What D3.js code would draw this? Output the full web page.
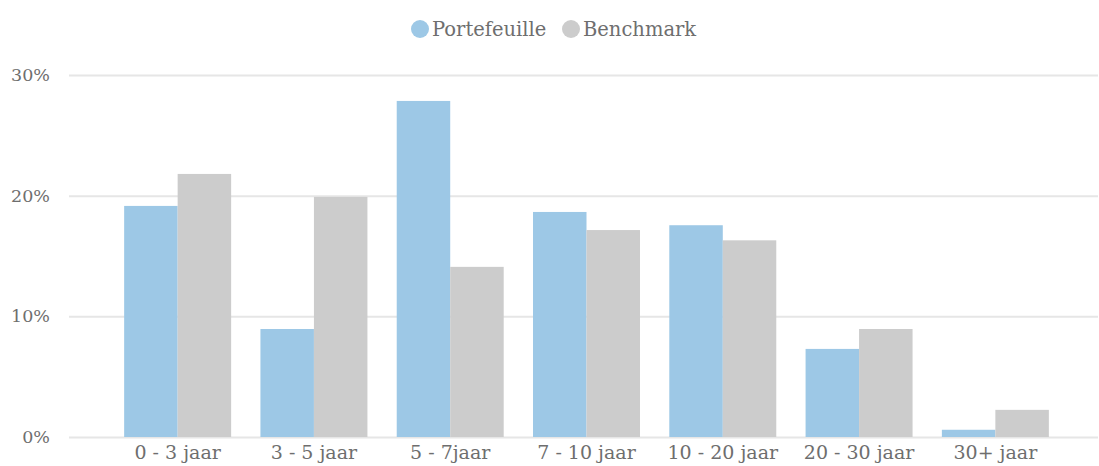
<!DOCTYPE html>
<html>
<head>
<meta charset="utf-8">
<script src="https://cdn.jsdelivr.net/npm/d3@7"></script>
<style>
  html, body { margin: 0; padding: 0; background: #fff; }
  svg { display: block; }
  text { font-family: "DejaVu Serif", serif; fill: #6e6e6e; }
</style>
</head>
<body>
<svg id="chart" width="1099" height="466"></svg>
<script>
const categories = ["0 - 3 jaar", "3 - 5 jaar", "5 - 7jaar", "7 - 10 jaar", "10 - 20 jaar", "20 - 30 jaar", "30+ jaar"];
const seriesNames = ["Portefeuille", "Benchmark"];
const portefeuille = [19.15, 8.95, 27.85, 18.65, 17.55, 7.3, 0.6];
const benchmark = [21.8, 19.9, 14.1, 17.15, 16.3, 8.95, 2.25];
const yTicks = [0, 10, 20, 30];
const colors = ["#9dc8e6", "#cccccc"];

const svg = d3.select("#chart");
const gridLeft = 69, gridRight = 1098;
const y = d3.scaleLinear().domain([0, 30]).range([437, 75]);
const x = d3.scaleBand().domain(categories).range([109.5, 1063.5]).paddingInner(0.215).paddingOuter(0.1075);
const x1 = d3.scaleBand().domain(seriesNames).range([0, x.bandwidth()]);

// gridlines
const yAxis = d3.axisLeft(y).tickValues(yTicks).tickSize(-(gridRight - gridLeft)).tickFormat(d => d + "%").tickPadding(19);
const gy = svg.append("g").attr("transform", `translate(${gridLeft},0)`).call(yAxis);
gy.select(".domain").remove();
gy.selectAll(".tick line").attr("stroke", "#e6e6e6").attr("stroke-width", 2);
gy.selectAll(".tick text").attr("font-size", 17.5).style("fill", "#6e6e6e").attr("font-family", "DejaVu Sans, sans-serif");

const data = categories.map((c, i) => ({cat: c, vals: [
  {name: seriesNames[0], v: portefeuille[i]},
  {name: seriesNames[1], v: benchmark[i]}
]}));

const groups = svg.append("g").selectAll("g").data(data).join("g")
  .attr("transform", d => `translate(${x(d.cat)},0)`);
groups.selectAll("rect").data(d => d.vals).join("rect")
  .attr("x", d => x1(d.name))
  .attr("width", x1.bandwidth())
  .attr("y", d => y(d.v))
  .attr("height", d => y(0) - y(d.v))
  .attr("fill", (d, i) => colors[i]);

// x axis labels
const xAxis = d3.axisBottom(x).tickSize(0).tickPadding(9);
const gx = svg.append("g").attr("transform", `translate(0,${y(0)})`).call(xAxis);
gx.select(".domain").remove();
gx.selectAll(".tick text").attr("font-size", 19).style("fill", "#6e6e6e").attr("font-family", "DejaVu Serif, serif");

// legend
const legend = svg.append("g");
const legendX = [420, 571];
seriesNames.forEach((n, i) => {
  legend.append("circle").attr("cx", legendX[i]).attr("cy", 29).attr("r", 9).attr("fill", colors[i]);
  legend.append("text").attr("x", legendX[i] + 12).attr("y", 35.5).attr("font-size", 19.5).text(n);
});
</script>
</body>
</html>
